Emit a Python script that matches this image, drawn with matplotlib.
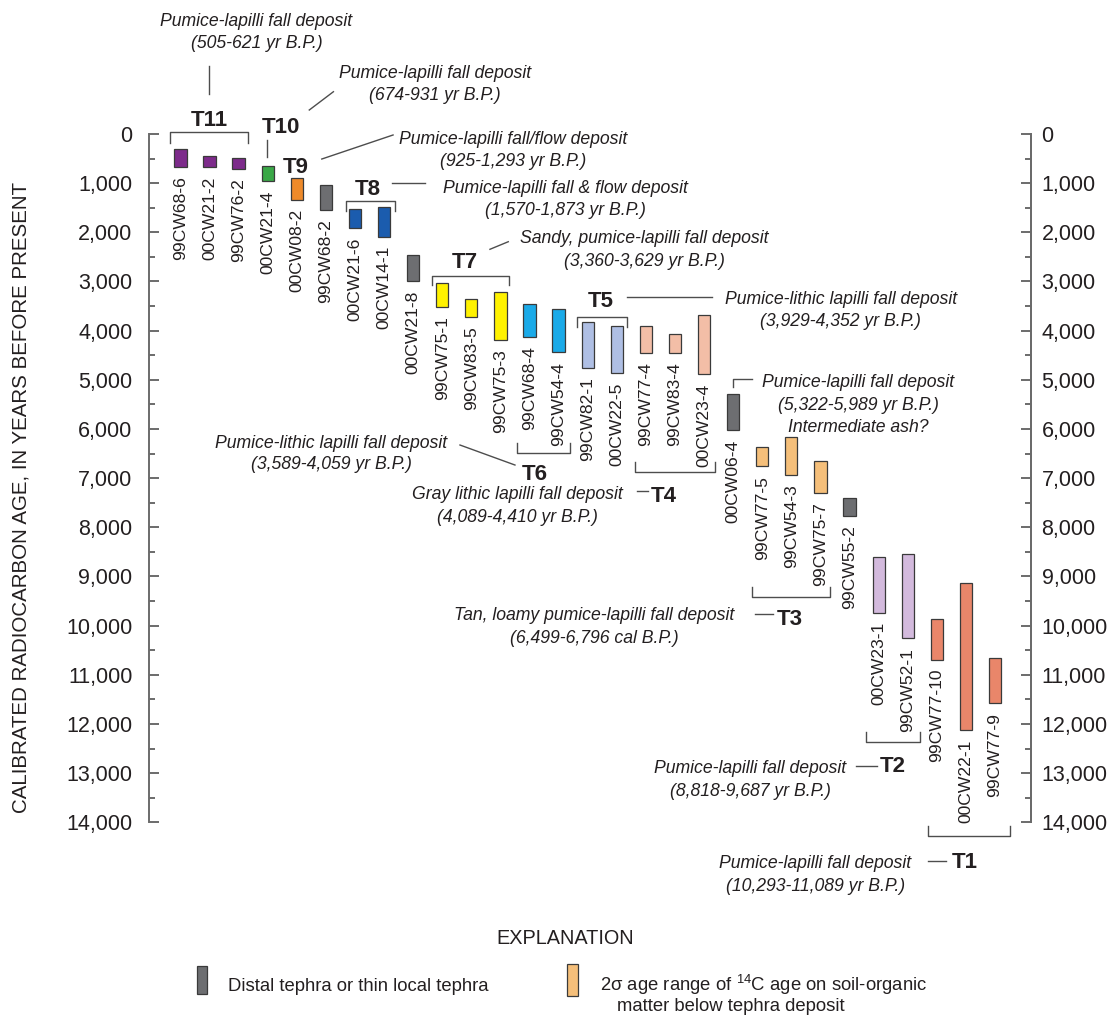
import matplotlib
matplotlib.use("Agg")
import matplotlib.pyplot as plt
from matplotlib.patches import Rectangle
import numpy as np

plt.rcParams['font.family'] = ['Liberation Sans', 'DejaVu Sans']
plt.rcParams['mathtext.fontset'] = 'custom'
plt.rcParams['mathtext.rm'] = 'Liberation Sans'
plt.rcParams['mathtext.it'] = 'Liberation Sans:italic'

# ---- data: calibrated 2-sigma age ranges (years before present) ----
samples = ["99CW68-6", "00CW21-2", "99CW76-2", "00CW21-4", "00CW08-2", "99CW68-2",
           "00CW21-6", "00CW14-1", "00CW21-8", "99CW75-1", "99CW83-5", "99CW75-3",
           "99CW68-4", "99CW54-4", "99CW82-1", "00CW22-5", "99CW77-4", "99CW83-4",
           "00CW23-4", "00CW06-4", "99CW77-5", "99CW54-3", "99CW75-7", "99CW55-2",
           "00CW23-1", "99CW52-1", "99CW77-10", "00CW22-1", "99CW77-9"]
age_young = [300, 440, 480, 660, 900, 1030, 1520, 1490, 2470, 3040, 3350, 3220,
             3450, 3550, 3830, 3900, 3900, 4060, 3690, 5280, 6370, 6170, 6650, 7400,
             8600, 8550, 9870, 9130, 10660]
age_old = [670, 680, 710, 960, 1340, 1550, 1910, 2090, 3000, 3520, 3730, 4180,
           4130, 4440, 4760, 4860, 4450, 4460, 4880, 6020, 6760, 6940, 7300, 7770,
           9740, 10260, 10690, 12130, 11580]
unit = ["T11", "T11", "T11", "T10", "T9", "distal", "T8", "T8", "distal", "T7", "T7",
        "T7", "T6", "T6", "T5", "T5", "T4", "T4", "T4", "distal", "soil", "soil",
        "soil", "distal", "T2", "T2", "T1", "T1", "T1"]

unit_colors = {"T11": "#7d2b8b", "T10": "#3aa847", "T9": "#ee8a2a", "distal": "#6d6e71",
               "T8": "#1b5cae", "T7": "#fff200", "T6": "#1aaae8", "T5": "#afbfe4",
               "T4": "#f3bea7", "soil": "#f5bf7a", "T2": "#d3badd", "T1": "#e9866a"}

yticks = np.arange(0, 14001, 1000)
ytick_labels = [f"{v:,}" for v in yticks]

# ---- figure ----
W, H = 1115, 1015
fig = plt.figure(figsize=(W / 100, H / 100), dpi=100)
ax = fig.add_axes([149 / W, 1 - 822.3 / H, (1030.5 - 149) / W, (822.3 - 134) / H])
ax.set_xlim(-1.079, 29.22)
ax.set_ylim(14000, 0)

x = np.arange(len(samples))
young = np.array(age_young)
old = np.array(age_old)
colors = [unit_colors[u] for u in unit]
ax.bar(x, old - young, bottom=young, width=0.42, color=colors,
       edgecolor="#3a3a3a", linewidth=0.9, zorder=3)

for xi, o, s in zip(x, old, samples):
    ax.text(xi, o + 190, s, rotation=90, ha="center", va="top",
            fontsize=12.6, color="#231f20")

# axes styling
for side in ("top", "bottom"):
    ax.spines[side].set_visible(False)
for side in ("left", "right"):
    ax.spines[side].set_color("#6b6b6b")
    ax.spines[side].set_linewidth(1.4)
ax.set_xticks([])
ax.set_yticks(yticks)
ax.set_yticklabels(ytick_labels)
ax.set_yticks(np.arange(500, 14000, 1000), minor=True)
ax.tick_params(axis="y", which="major", direction="in", length=7.5, width=1.1,
               color="#444444", labelsize=15.5, pad=12, labelcolor="#231f20")
ax.tick_params(axis="y", which="minor", direction="in", length=4.5, width=1.1,
               color="#444444")
ax.tick_params(axis="y", which="both", right=True)

ax2 = ax.twinx()
ax2.set_ylim(14000, 0)
for side in ("top", "bottom", "left"):
    ax2.spines[side].set_visible(False)
ax2.spines["right"].set_color("#6b6b6b")
ax2.spines["right"].set_linewidth(1.4)
ax2.set_yticks(yticks)
ax2.set_yticklabels(ytick_labels)
ax2.set_yticks(np.arange(500, 14000, 1000), minor=True)
ax2.tick_params(axis="y", which="major", direction="in", length=7.5, width=1.1,
                color="#444444", labelsize=15.5, pad=8, labelcolor="#231f20")
ax2.tick_params(axis="y", which="minor", direction="in", length=4.5, width=1.1,
                color="#444444")

fig.text(21 / W, 1 - 497 / H, "CALIBRATED RADIOCARBON AGE, IN YEARS BEFORE PRESENT",
         rotation=90, ha="center", va="center", fontsize=14.8, color="#231f20")

LC = "#4d4d4d"


def line(xs, ys):
    ax.plot(xs, ys, color=LC, lw=1.0, clip_on=False, zorder=2)


def bracket(x0, x1, y, yend):
    line([x0, x0, x1, x1], [yend, y, y, yend])


def unit_label(xc, yb, name):
    ax.text(xc, yb, name, ha="center", va="baseline", fontsize=16,
            fontweight="bold", color="#231f20", clip_on=False)


def note(xc, baselines, lines):
    for yb, t in zip(baselines, lines):
        ax.text(xc, yb, t, ha="center", va="baseline", fontsize=12.7,
                style="italic", color="#231f20", clip_on=False)


# T11
bracket(-0.357, 2.334, -35, 190)
unit_label(0.99, -163, "T11")
line([0.99, 0.99], [-1383, -814])
note(2.61, [-2197, -1749], ["Pumice-lapilli fall deposit", "(505-621 yr B.P.)"])
# T10
unit_label(3.44, -26, "T10")
line([2.97, 2.97], [122, 462])
line([4.43, 5.26], [-488, -860])
note(8.75, [-1139, -692], ["Pumice-lapilli fall deposit", "(674-931 yr B.P.)"])
# T9
unit_label(3.97, 793, "T9")
line([4.86, 7.31], [509, 20])
note(11.42, [203, 651], ["Pumice-lapilli fall/flow deposit", "(925-1,293 yr B.P.)"])
# T8
bracket(5.68, 7.38, 1357, 1560)
unit_label(6.43, 1241, "T8")
line([7.26, 8.41], [1003, 1003])
note(13.22, [1200, 1648], ["Pumice-lapilli fall & flow deposit", "(1,570-1,873 yr B.P.)"])
# T7
bracket(8.64, 11.31, 2888, 3071)
unit_label(9.78, 2732, "T7")
line([10.64, 11.27], [2345, 2191])
note(15.94, [2227, 2685], ["Sandy, pumice-lapilli fall deposit", "(3,360-3,629 yr B.P.)"])
# T5
bracket(13.62, 15.34, 3722, 3919)
unit_label(14.44, 3513, "T5")
line([15.34, 18.26], [3309, 3309])
note(22.70, [3448, 3905], ["Pumice-lithic lapilli fall deposit", "(3,929-4,352 yr B.P.)"])
# T6
bracket(11.57, 13.39, 6494, 6279)
unit_label(12.19, 7038, "T6")
line([9.61, 11.50], [6326, 6733])
note(5.18, [6377, 6814], ["Pumice-lithic lapilli fall deposit", "(3,589-4,059 yr B.P.)"])
# T4
bracket(15.63, 18.38, 6869, 6665)
unit_label(16.62, 7479, "T4")
line([15.69, 16.08], [7255, 7255])
note(11.60, [7434, 7882], ["Gray lithic lapilli fall deposit", "(4,089-4,410 yr B.P.)"])
# distal ash above 00CW06-4
line([19.01, 19.01, 19.64], [5146, 4989, 4989])
note(23.29, [5146, 5614, 6071], ["Pumice-lapilli fall deposit", "(5,322-5,989 yr B.P.)",
                                  "Intermediate ash?"])
# T3
bracket(19.64, 22.33, 9411, 9208)
unit_label(20.96, 9987, "T3")
line([19.75, 20.36], [9769, 9769])
note(14.22, [9885, 10353], ["Tan, loamy pumice-lapilli fall deposit", "(6,499-6,796 cal B.P.)"])
# T2
bracket(23.57, 25.43, 12361, 12157)
unit_label(24.48, 12971, "T2")
line([23.23, 23.94], [12849, 12849])
note(19.58, [12997, 13465], ["Pumice-lapilli fall deposit", "(8,818-9,687 yr B.P.)"])
# T1
bracket(25.69, 28.52, 14279, 14069)
unit_label(26.97, 14930, "T1")
line([25.70, 26.32], [14786, 14786])
note(21.82, [14930, 15397], ["Pumice-lapilli fall deposit", "(10,293-11,089 yr B.P.)"])

# ---- explanation ----
fig.text(565 / W, 1 - 938 / H, "EXPLANATION", ha="center", va="center",
         fontsize=14.3, color="#231f20")
fig.patches.append(Rectangle((197 / W, 1 - 994 / H), 10 / W, 28 / H,
                             transform=fig.transFigure, facecolor=unit_colors["distal"],
                             edgecolor="#3a3a3a", linewidth=0.9))
fig.text(228 / W, 1 - 991 / H, "Distal tephra or thin local tephra", ha="left",
         va="baseline", fontsize=13.3, color="#231f20")
fig.patches.append(Rectangle((567 / W, 1 - 996 / H), 11 / W, 32 / H,
                             transform=fig.transFigure, facecolor=unit_colors["soil"],
                             edgecolor="#3a3a3a", linewidth=0.9))
fig.text(600 / W, 1 - 991 / H, r"2σ age range of $^{\mathrm{14}}$C age on soil-organic",
         ha="left", va="baseline", fontsize=13.3, color="#231f20")
fig.text(617 / W, 1 - 1011 / H, "matter below tephra deposit", ha="left",
         va="baseline", fontsize=13.3, color="#231f20")

fig.savefig("out.png", dpi=100, facecolor="white")
